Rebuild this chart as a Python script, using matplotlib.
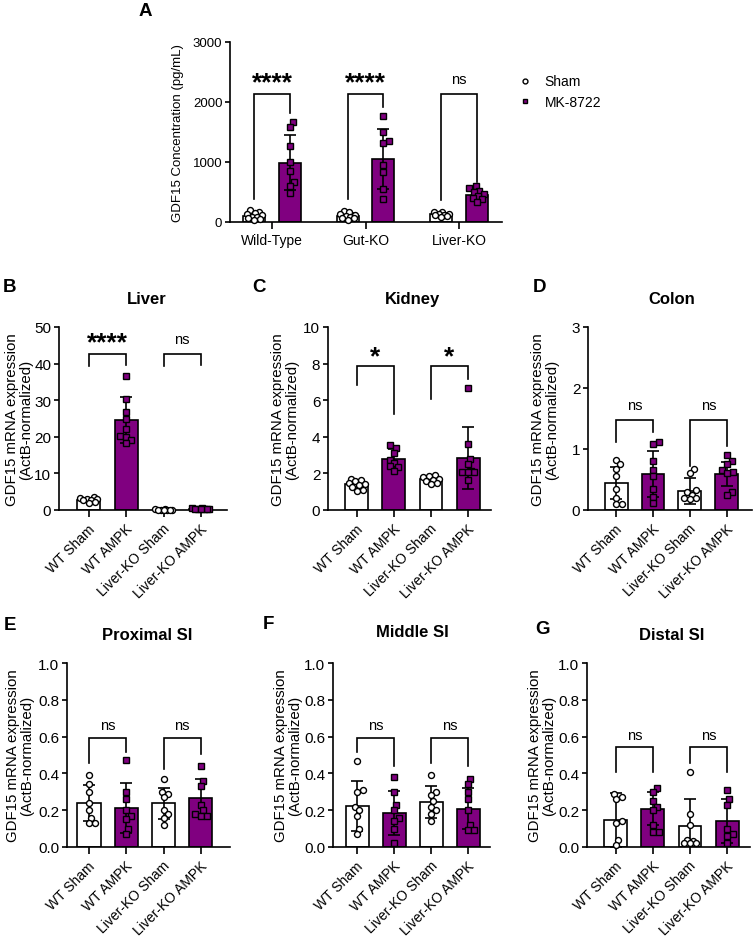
import numpy as np
import matplotlib
matplotlib.use("Agg")
import matplotlib.pyplot as plt
import matplotlib.transforms as mtransforms
from matplotlib.lines import Line2D

plt.rcParams['font.family'] = ['Liberation Sans', 'DejaVu Sans']

# ---------------- DATA ----------------
PURPLE = '#800080'

# Panel A
A_groups = ['Wild-Type', 'Gut-KO', 'Liver-KO']
A_sham_pts = [
    [200, 170, 150, 130, 110, 90, 80, 60, 50, 40],
    [180, 160, 140, 120, 100, 90, 70, 60, 40],
    [170, 160, 140, 130, 120, 110, 100, 90],
]
A_mk_pts = [
    [1661, 1583, 1261, 1006, 850, 667, 606, 489],
    [1772, 1506, 1344, 1311, 950, 833, 544, 389],
    [600, 560, 520, 500, 470, 430, 400, 380, 330],
]
A_sham_mean = [105, 100, 128]
A_sham_sd = [50, 45, 30]
A_mk_mean = [990, 1056, 450]
A_mk_sd = [455, 500, 80]
A_sig = ['****', '****', 'ns']
A_sig_top = [2130, 2130, 2130]
A_sig_left = [380, 380, 370]
A_sig_right = [1820, 1920, 667]
A_sig_text_y = [2330, 2330, 2380]

# Panels B-G
conditions = ['WT Sham', 'WT AMPK', 'Liver-KO Sham', 'Liver-KO AMPK']
tissues = ['Liver', 'Kidney', 'Colon', 'Proximal SI', 'Middle SI', 'Distal SI']
letters = ['B', 'C', 'D', 'E', 'F', 'G']

points = {
    'Liver': [
        [3.5, 3.3, 3.1, 2.9, 2.8, 2.6, 2.3, 2.0],
        [36.5, 30.2, 26.7, 25.0, 22.2, 20.3, 20.0, 19.1, 18.2],
        [0.2, 0.15, 0.12, 0.1, 0.08, 0.06, 0.05, 0.04],
        [0.5, 0.45, 0.4, 0.3, 0.25, 0.2, 0.2, 0.15],
    ],
    'Kidney': [
        [1.7, 1.65, 1.6, 1.5, 1.4, 1.35, 1.25, 1.1, 1.05],
        [3.55, 3.4, 3.1, 2.75, 2.55, 2.4, 2.35, 2.15],
        [1.9, 1.85, 1.8, 1.7, 1.65, 1.6, 1.5, 1.4],
        [6.65, 3.6, 2.8, 2.5, 2.15, 2.1, 2.1, 2.05, 1.65],
    ],
    'Colon': [
        [0.82, 0.75, 0.68, 0.55, 0.35, 0.2, 0.1, 0.1],
        [1.12, 1.08, 0.8, 0.65, 0.55, 0.35, 0.22, 0.12],
        [0.67, 0.6, 0.32, 0.3, 0.25, 0.2, 0.2, 0.18],
        [0.9, 0.8, 0.75, 0.65, 0.62, 0.6, 0.3, 0.25],
    ],
    'Proximal SI': [
        [0.39, 0.34, 0.3, 0.24, 0.2, 0.16, 0.13, 0.13],
        [0.475, 0.3, 0.26, 0.2, 0.17, 0.15, 0.1, 0.07],
        [0.37, 0.3, 0.29, 0.27, 0.2, 0.18, 0.16, 0.12],
        [0.44, 0.36, 0.33, 0.23, 0.2, 0.18, 0.17, 0.17],
    ],
    'Middle SI': [
        [0.47, 0.31, 0.30, 0.22, 0.20, 0.17, 0.10, 0.07],
        [0.38, 0.3, 0.23, 0.2, 0.16, 0.14, 0.1, 0.02],
        [0.39, 0.3, 0.28, 0.25, 0.22, 0.2, 0.18, 0.14],
        [0.37, 0.34, 0.3, 0.26, 0.2, 0.12, 0.09, 0.09],
    ],
    'Distal SI': [
        [0.29, 0.27, 0.26, 0.14, 0.13, 0.04, 0.01],
        [0.32, 0.3, 0.25, 0.22, 0.2, 0.12, 0.08, 0.08],
        [0.41, 0.18, 0.12, 0.04, 0.03, 0.02, 0.02, 0.02],
        [0.31, 0.26, 0.23, 0.1, 0.07, 0.06, 0.02],
    ],
}
means = {
    'Liver': [2.7, 24.6, 0.1, 0.3],
    'Kidney': [1.43, 2.78, 1.68, 2.83],
    'Colon': [0.44, 0.59, 0.31, 0.59],
    'Proximal SI': [0.241, 0.214, 0.238, 0.269],
    'Middle SI': [0.223, 0.187, 0.245, 0.209],
    'Distal SI': [0.147, 0.209, 0.114, 0.142],
}
sds = {
    'Liver': [0.5, 6.4, 0.05, 0.12],
    'Kidney': [0.2, 0.55, 0.15, 1.69],
    'Colon': [0.26, 0.38, 0.21, 0.2],
    'Proximal SI': [0.097, 0.136, 0.085, 0.1],
    'Middle SI': [0.137, 0.12, 0.087, 0.11],
    'Distal SI': [0.145, 0.092, 0.146, 0.12],
}
ymax = {'Liver': 50, 'Kidney': 10, 'Colon': 3,
        'Proximal SI': 1.0, 'Middle SI': 1.0, 'Distal SI': 1.0}
yticks = {
    'Liver': [0, 10, 20, 30, 40, 50],
    'Kidney': [0, 2, 4, 6, 8, 10],
    'Colon': [0, 1, 2, 3],
    'Proximal SI': [0.0, 0.2, 0.4, 0.6, 0.8, 1.0],
    'Middle SI': [0.0, 0.2, 0.4, 0.6, 0.8, 1.0],
    'Distal SI': [0.0, 0.2, 0.4, 0.6, 0.8, 1.0],
}
ytick_fmt = {'Liver': '{:.0f}', 'Kidney': '{:.0f}', 'Colon': '{:.0f}',
             'Proximal SI': '{:.1f}', 'Middle SI': '{:.1f}', 'Distal SI': '{:.1f}'}
# significance: (label, top, left leg bottom, right leg bottom, text y) for WT pair and KO pair
sig = {
    'Liver': [('****', 42.7, 39.3, 39.6, 45.8), ('ns', 42.7, 39.3, 39.6, 46.6)],
    'Kidney': [('*', 7.86, 6.84, 5.25, 8.40), ('*', 7.86, 6.07, 7.17, 8.40)],
    'Colon': [('ns', 1.48, 1.108, 1.284, 1.72), ('ns', 1.48, 0.724, 1.053, 1.72)],
    'Proximal SI': [('ns', 0.59, 0.459, 0.514, 0.662), ('ns', 0.59, 0.423, 0.505, 0.662)],
    'Middle SI': [('ns', 0.59, 0.514, 0.441, 0.662), ('ns', 0.59, 0.455, 0.441, 0.662)],
    'Distal SI': [('ns', 0.541, 0.405, 0.405, 0.607), ('ns', 0.541, 0.459, 0.405, 0.607)],
}

# ---------------- LAYOUT ----------------
W, H = 753, 937
fig = plt.figure(figsize=(W / 100, H / 100), dpi=100)


def px_axes(x0, y0, x1, y1):
    return fig.add_axes([x0 / W, 1 - y1 / H, (x1 - x0) / W, (y1 - y0) / H])


def swarm_x(ax, xc, vals, diam, maxoff):
    """simple beeswarm, offsets limited to +-maxoff pixels"""
    vals = np.asarray(vals, float)
    pts = ax.transData.transform(np.column_stack([np.full(len(vals), xc), vals]))
    ys = pts[:, 1]
    order = np.argsort(ys)
    cands = [0.0]
    for s in np.arange(0.5, maxoff + 0.01, 0.5):
        cands += [s, -s]
    placed = []
    off = np.zeros(len(vals))
    for i in order:
        best, bestd = 0.0, -1
        for c in cands:
            d = min([np.hypot(c - px, ys[i] - py) for px, py in placed] + [1e9])
            if d >= diam:
                best = c
                break
            if d > bestd:
                best, bestd = c, d
        placed.append((best, ys[i]))
        off[i] = best
    scale = ax.transData.transform((1, 0))[0] - ax.transData.transform((0, 0))[0]
    return xc + off / scale


LW = 1.2
MS = 4.3
MEW = 1.0


def style_axes(ax, ysize=11, xsize=10):
    for s in ['top', 'right']:
        ax.spines[s].set_visible(False)
    for s in ['left', 'bottom']:
        ax.spines[s].set_linewidth(LW)
    ax.tick_params(axis='y', length=3.5, width=LW, labelsize=ysize, pad=2)
    ax.tick_params(axis='x', length=5, width=LW, labelsize=xsize, pad=3)


def draw_group(ax, x, mean, sd, pts, face, marker, width):
    ax.bar(x, mean, width=width, color=face, edgecolor='black', linewidth=LW, zorder=1)
    ax.errorbar(x, mean, yerr=sd, fmt='none', ecolor='black', elinewidth=LW,
                capsize=4.2, capthick=LW, zorder=2)
    scale = ax.transData.transform((1, 0))[0] - ax.transData.transform((0, 0))[0]
    maxoff = 0.5 * width * scale - 3.0
    xs = swarm_x(ax, x, pts, 5.8, maxoff)
    ax.plot(xs, pts, linestyle='none', marker=marker, markersize=MS,
            markerfacecolor=face, markeredgecolor='black', markeredgewidth=MEW,
            zorder=3, clip_on=False)


def bracket(ax, x1, x2, top, lb, rb, label, ty):
    ax.plot([x1, x1, x2, x2], [lb, top, top, rb], color='black', lw=LW,
            zorder=4, clip_on=False, solid_joinstyle='miter')
    if '*' in label:
        ax.text((x1 + x2) / 2, ty, label, ha='center', va='center', fontsize=19,
                fontweight='bold', zorder=5)
    else:
        ax.text((x1 + x2) / 2, ty, label, ha='center', va='center', fontsize=10.5, zorder=5)


# ---------------- PANEL A ----------------
axA = px_axes(230, 43, 502, 223)
axA.set_xlim(-0.45, 2.46)
axA.set_ylim(0, 3000)
style_axes(axA, ysize=9.5, xsize=10)
off = 0.19
bw = 0.235
for i in range(3):
    draw_group(axA, i - off, A_sham_mean[i], A_sham_sd[i], A_sham_pts[i], 'white', 'o', bw)
    draw_group(axA, i + off, A_mk_mean[i], A_mk_sd[i], A_mk_pts[i], PURPLE, 's', bw)
    bracket(axA, i - off, i + off, A_sig_top[i], A_sig_left[i], A_sig_right[i],
            A_sig[i], A_sig_text_y[i])
axA.set_xticks(range(3))
axA.set_xticklabels(A_groups)
axA.set_yticks([0, 1000, 2000, 3000])
axA.set_ylabel('GDF15 Concentration (pg/mL)', fontsize=9.5)
axA.yaxis.set_label_coords(-0.17, 0.5)
handles = [
    Line2D([], [], linestyle='none', marker='o', markersize=3.5, markerfacecolor='white',
           markeredgecolor='black', markeredgewidth=1.0, label='Sham'),
    Line2D([], [], linestyle='none', marker='s', markersize=3.5, markerfacecolor=PURPLE,
           markeredgecolor='black', markeredgewidth=1.0, label='MK-8722'),
]
axA.legend(handles=handles, loc='upper left', bbox_to_anchor=(1.06, 0.82), frameon=False,
           fontsize=10, handlelength=1.0, handletextpad=0.9, labelspacing=0.45,
           borderpad=0, borderaxespad=0)
fig.text(145 / W, 1 - 11 / H, 'A', ha='center', va='center', fontsize=13.5, fontweight='bold')

# ---------------- PANELS B-G ----------------
boxes = [
    (59, 328, 227, 511, -0.80, 3.70),
    (328, 328, 491, 511, -0.78, 3.62),
    (588, 328, 752, 511, -0.76, 3.68),
    (67, 664, 230, 848, -0.59, 3.78),
    (333, 664, 490, 848, -0.65, 3.59),
    (587, 664, 750, 848, -0.78, 3.62),
]
title_pos = [(147, 300), (413, 300), (672, 300), (147, 636), (412, 633), (672, 636)]
letter_pos = [(10, 288), (259, 288), (540, 288), (10, 626), (268, 625), (543, 629)]
ylabel_right_px = [33, 299, 559, 34, 302, 556]
label_shift = mtransforms.ScaledTranslation(4 / 100, -5 / 100, fig.dpi_scale_trans)

for k, t in enumerate(tissues):
    x0, y0, x1, y1, xl, xr = boxes[k]
    ax = px_axes(x0, y0, x1, y1)
    ax.set_xlim(xl, xr)
    ax.set_ylim(0, ymax[t])
    style_axes(ax)
    for j in range(4):
        face = 'white' if j % 2 == 0 else PURPLE
        marker = 'o' if j % 2 == 0 else 's'
        draw_group(ax, j, means[t][j], sds[t][j], points[t][j], face, marker, 0.62)
    for p, (lab, top, lb, rb, ty) in enumerate(sig[t]):
        bracket(ax, 2 * p, 2 * p + 1, top, lb, rb, lab, ty)
    ax.set_yticks(yticks[t])
    ax.set_yticklabels([ytick_fmt[t].format(v) for v in yticks[t]])
    ax.set_xticks(range(4))
    ax.set_xticklabels(conditions, rotation=45, ha='right', va='center',
                       rotation_mode='anchor')
    for lbl in ax.get_xticklabels():
        lbl.set_transform(lbl.get_transform() + label_shift)
    ax.set_ylabel('GDF15 mRNA expression\n(ActB-normalized)', fontsize=10.8, linespacing=1.0)
    ax.yaxis.set_label_coords((ylabel_right_px[k] - x0) / (x1 - x0), 0.5)
    fig.text(title_pos[k][0] / W, 1 - title_pos[k][1] / H, t, ha='center', va='center',
             fontsize=12, fontweight='bold')
    fig.text(letter_pos[k][0] / W, 1 - letter_pos[k][1] / H, letters[k], ha='center',
             va='center', fontsize=13.5, fontweight='bold')

fig.savefig('out.png', dpi=100)
